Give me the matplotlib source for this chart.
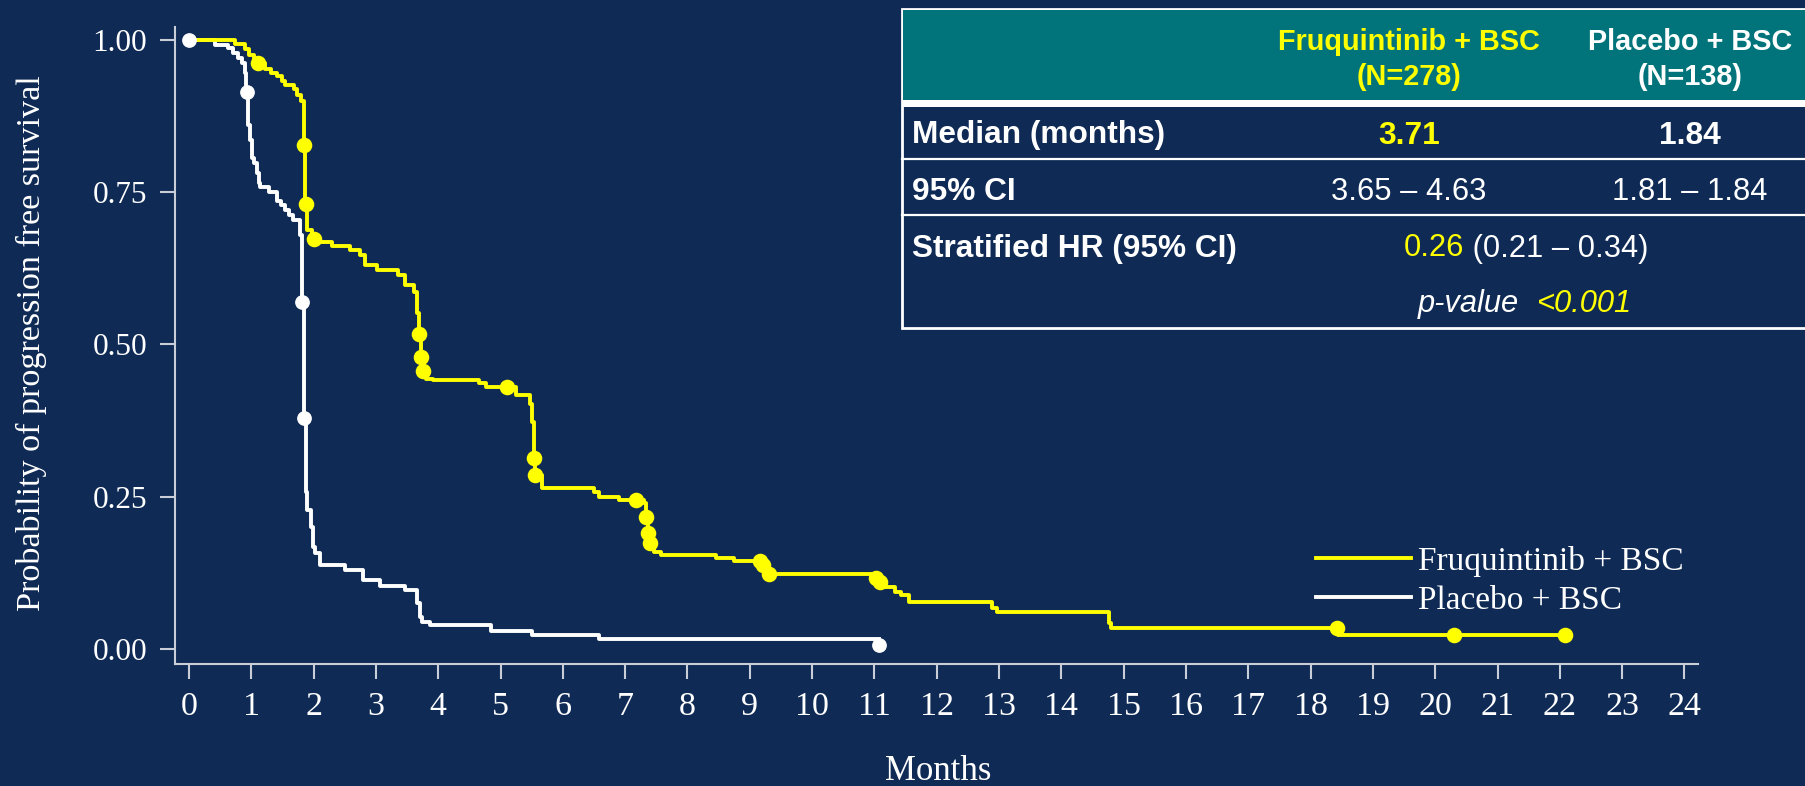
import matplotlib
matplotlib.use("Agg")
import matplotlib.pyplot as plt
from matplotlib.patches import Rectangle

# Kaplan-Meier PFS
fruq_t = [0, 0.74, 0.90, 0.97, 1.04, 1.22, 1.31, 1.41, 1.49, 1.54,
          1.68, 1.73, 1.79, 1.84, 1.86, 1.89, 1.97, 2.05, 2.29, 2.59,
          2.75, 2.83, 3.02, 3.36, 3.47, 3.61, 3.66, 3.69, 3.72, 3.76,
          3.81, 3.92, 4.65, 4.76, 5.24, 5.48, 5.51, 5.53, 5.56, 5.67,
          6.50, 6.58, 6.90, 7.30, 7.34, 7.37, 7.40, 7.47, 7.57, 8.46,
          8.75, 9.21, 9.29, 10.98, 11.07, 11.16, 11.33, 11.43, 11.55, 12.88,
          12.96, 14.77, 14.80, 18.44, 22.09]
fruq_s = [1.000, 0.993, 0.985, 0.975, 0.962, 0.952, 0.946, 0.941, 0.933, 0.926,
          0.919, 0.910, 0.900, 0.828, 0.731, 0.688, 0.673, 0.669, 0.661, 0.655,
          0.647, 0.631, 0.622, 0.614, 0.598, 0.587, 0.552, 0.518, 0.480, 0.456,
          0.444, 0.441, 0.437, 0.430, 0.417, 0.403, 0.373, 0.313, 0.285, 0.264,
          0.257, 0.250, 0.244, 0.240, 0.216, 0.191, 0.174, 0.160, 0.155, 0.149,
          0.145, 0.138, 0.123, 0.117, 0.110, 0.102, 0.094, 0.088, 0.077, 0.068,
          0.060, 0.042, 0.034, 0.023, 0.023]
fruq_cens_t = [1.11, 1.84, 1.88, 2.00, 3.69, 3.72, 3.76, 5.11, 5.53, 5.56, 7.18,
               7.34, 7.37, 7.40, 9.17, 9.21, 9.31, 11.03, 11.09, 18.42, 20.30, 22.09]
fruq_cens_s = [0.962, 0.828, 0.731, 0.673, 0.518, 0.480, 0.456, 0.430, 0.313, 0.285, 0.244,
               0.216, 0.191, 0.174, 0.145, 0.138, 0.123, 0.117, 0.110, 0.034, 0.023, 0.023]

plac_t = [0, 0.42, 0.62, 0.71, 0.78, 0.85, 0.90, 0.92, 0.94, 0.98,
          1.01, 1.05, 1.09, 1.12, 1.14, 1.28, 1.42, 1.47, 1.54, 1.60,
          1.67, 1.78, 1.81, 1.84, 1.87, 1.90, 1.95, 1.99, 2.03, 2.11,
          2.50, 2.80, 3.07, 3.47, 3.66, 3.70, 3.74, 3.87, 4.85, 5.50,
          6.58, 11.08]
plac_s = [1.000, 0.992, 0.986, 0.979, 0.971, 0.962, 0.945, 0.915, 0.860, 0.835,
          0.806, 0.798, 0.781, 0.765, 0.759, 0.751, 0.735, 0.729, 0.721, 0.712,
          0.704, 0.680, 0.570, 0.380, 0.258, 0.228, 0.201, 0.168, 0.157, 0.138,
          0.130, 0.113, 0.103, 0.097, 0.075, 0.053, 0.045, 0.039, 0.030, 0.023,
          0.016, 0.016]
plac_cens_t = [0.0, 0.925, 1.81, 1.84, 11.08]
plac_cens_s = [1.0, 0.915, 0.570, 0.380, 0.007]

arm_labels = ["Fruquintinib + BSC", "Placebo + BSC"]
x_ticks = list(range(0, 25))
y_ticks = [0.00, 0.25, 0.50, 0.75, 1.00]

# table contents
col_heads = ["Fruquintinib + BSC\n(N=278)", "Placebo + BSC\n(N=138)"]
row_labels = ["Median (months)", "95% CI", "Stratified HR (95% CI)"]
medians = ["3.71", "1.84"]
cis = ["3.65 – 4.63", "1.81 – 1.84"]
hr_value = "0.26"
hr_ci = " (0.21 – 0.34)"
p_label = "p-value  "
p_value = "<0.001"

BG = "#0e2a55"
TEAL = "#00747a"
YEL = "#ffff00"
AXC = "#c9cdd8"
W, H = 1805, 786
serif = "Liberation Serif"
sans = "Liberation Sans"

fig = plt.figure(figsize=(W / 100, H / 100), dpi=100, facecolor=BG)

# main plot, placed in pixel terms
left, right, top, bottom = 175, 1698, 27, 663.5
ax = fig.add_axes([left / W, 1 - bottom / H, (right - left) / W, (bottom - top) / H])
ax.set_facecolor(BG)

ax.step(plac_t, plac_s, where="post", color="white", lw=2.8, label=arm_labels[1], zorder=3)
ax.step(fruq_t, fruq_s, where="post", color=YEL, lw=2.8, label=arm_labels[0], zorder=4)
ax.plot(fruq_cens_t, fruq_cens_s, "o", color=YEL, ms=10.2, zorder=5)
ax.plot(plac_cens_t, plac_cens_s, "o", color="white", ms=9.6, zorder=6)

ax.set_xlim(-0.2247, 24.217)
ax.set_ylim(-0.0238, 1.0213)
ax.set_xticks(x_ticks)
ax.set_yticks(y_ticks)
ax.set_yticklabels(["%.2f" % v for v in y_ticks])

for s in ["top", "right"]:
    ax.spines[s].set_visible(False)
for s in ["left", "bottom"]:
    ax.spines[s].set_color(AXC)
    ax.spines[s].set_linewidth(1.5)

ax.tick_params(axis="both", colors=AXC, length=11, width=1.5, direction="out")
ax.tick_params(axis="x", labelcolor="white", pad=9, labelsize=24.5)
ax.tick_params(axis="y", labelcolor="white", pad=9, labelsize=22.5)
for lab in ax.get_xticklabels() + ax.get_yticklabels():
    lab.set_fontfamily(serif)

fig.text(31 / W, 1 - 343 / H, "Probability of progression free survival", rotation=90,
         ha="center", va="center", color="white", fontsize=24.6, family=serif)
fig.text(938 / W, 1 - 771 / H, "Months", ha="center", va="center",
         color="white", fontsize=25, family=serif)

handles, labels = ax.get_legend_handles_labels()
leg = ax.legend(handles[::-1], labels[::-1], loc="center left",
                bbox_to_anchor=(1316 / W, 1 - 581 / H), bbox_transform=fig.transFigure,
                frameon=False, handlelength=2.85, handletextpad=0.2, labelspacing=0.25,
                borderpad=0, borderaxespad=0,
                prop={"family": serif, "size": 24})
for t in leg.get_texts():
    t.set_color("white")

# table drawn on an overlay in pixel coordinates
ov = fig.add_axes([0, 0, 1, 1])
ov.set_xlim(0, W)
ov.set_ylim(H, 0)
ov.axis("off")
ov.patch.set_visible(False)

ov.add_patch(Rectangle((902, 8.5), 920, 319, facecolor=BG, edgecolor="white", lw=2, zorder=1))
ov.add_patch(Rectangle((903, 10), 920, 89.5, facecolor=TEAL, edgecolor="none", zorder=2))
ov.add_patch(Rectangle((903, 99.5), 920, 7.5, facecolor="white", edgecolor="none", zorder=2))
for yl in [159, 215]:
    ov.plot([902, W], [yl, yl], color="white", lw=1.6, zorder=2)

col_x = [1409, 1690]
fs = 22.8
ov.text(col_x[0], 59.5, col_heads[0], ha="center", va="center", color=YEL,
        fontsize=20.8, fontweight="bold", family=sans, linespacing=1.35, zorder=3)
ov.text(col_x[1], 59.5, col_heads[1], ha="center", va="center", color="white",
        fontsize=20.8, fontweight="bold", family=sans, linespacing=1.35, zorder=3)

row_y = [135.5, 191.5, 248.5]
for lab, yy in zip(row_labels, row_y):
    ov.text(912, yy, lab, ha="left", va="center", color="white",
            fontsize=fs, fontweight="bold", family=sans, zorder=3)
ov.text(col_x[0], row_y[0], medians[0], ha="center", va="center", color=YEL,
        fontsize=fs, fontweight="bold", family=sans, zorder=3)
ov.text(col_x[1], row_y[0], medians[1], ha="center", va="center", color="white",
        fontsize=fs, fontweight="bold", family=sans, zorder=3)
for cx, ci in zip(col_x, cis):
    ov.text(cx, row_y[1], ci, ha="center", va="center", color="white",
            fontsize=fs - 0.6, family=sans, zorder=3)

t1 = ov.text(1404, row_y[2], hr_value, ha="left", va="center", color=YEL,
             fontsize=fs - 0.6, family=sans, zorder=3)
ov.annotate(hr_ci, xy=(1, 0.5), xycoords=t1, ha="left", va="center", color="white",
            fontsize=fs - 0.6, family=sans, zorder=3)
t2 = ov.text(1418, 304, p_label, ha="left", va="center", color="white",
             fontsize=fs - 0.6, style="italic", family=sans, zorder=3)
ov.annotate(p_value, xy=(1, 0.5), xycoords=t2, ha="left", va="center", color=YEL,
            fontsize=fs - 0.6, style="italic", family=sans, zorder=3)

fig.savefig("out.png", dpi=100, facecolor=BG)
